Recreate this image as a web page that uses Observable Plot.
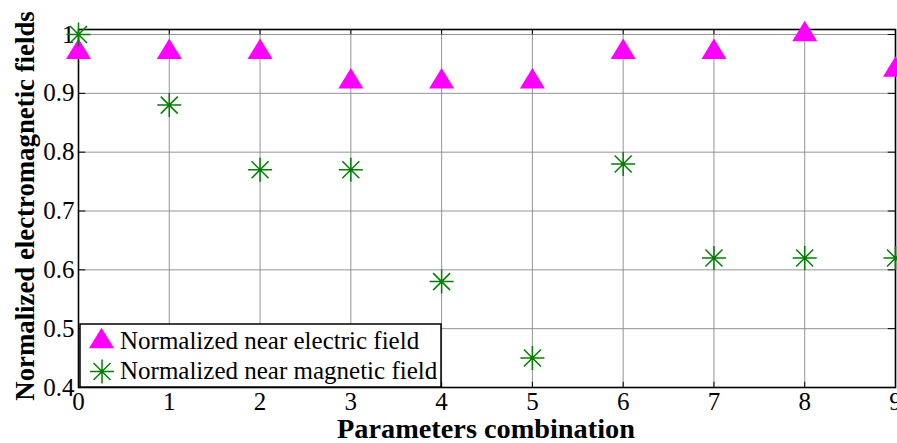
<!DOCTYPE html>
<html>
<head>
<meta charset="utf-8">
<script src="https://cdn.jsdelivr.net/npm/d3@7"></script>
<script src="https://cdn.jsdelivr.net/npm/@observablehq/plot@0.6"></script>
<style>
  html, body { margin: 0; padding: 0; background: #fff; }
  #chart { position: relative; width: 897px; height: 443px; }
  #chart svg text { font-family: "Liberation Serif", "Times New Roman", serif !important; }
  #chart svg [aria-label$="tick label"],
  #chart svg [aria-label$="tick label"] text { font-size: 25px !important; fill: #000; }
</style>
</head>
<body>
<div id="chart"></div>
<script>
const combos = [0, 1, 2, 3, 4, 5, 6, 7, 8, 9];
const electric = [0.97, 0.97, 0.97, 0.92, 0.92, 0.92, 0.97, 0.97, 1.0, 0.94];
const magnetic = [1.0, 0.88, 0.77, 0.77, 0.58, 0.45, 0.78, 0.62, 0.62, 0.62];
const yTicks = [0.4, 0.5, 0.6, 0.7, 0.8, 0.9, 1.0];
const xTicks = [0, 1, 2, 3, 4, 5, 6, 7, 8, 9];
const seriesNames = ["Normalized near electric field", "Normalized near magnetic field"];
const xLabel = "Parameters combination";
const yLabel = "Normalized electromagnetic fields";

const elecData = combos.map((c, i) => ({x: c, y: electric[i]}));
const magData = combos.map((c, i) => ({x: c, y: magnetic[i]}));

const triSym = {
  draw(ctx) {
    const w = 12.5, h = 20.5;
    ctx.moveTo(0, -h * 2 / 3);
    ctx.lineTo(w, h / 3);
    ctx.lineTo(-w, h / 3);
    ctx.closePath();
  }
};
const starSym = {
  draw(ctx) {
    const r = 12, d = 8.5;
    ctx.moveTo(-r, 0); ctx.lineTo(r, 0);
    ctx.moveTo(0, -r); ctx.lineTo(0, r);
    ctx.moveTo(-d, -d); ctx.lineTo(d, d);
    ctx.moveTo(-d, d); ctx.lineTo(d, -d);
  }
};

const font = "Liberation Serif";
const yTop = 1.0085;

const plot = Plot.plot({
  width: 897,
  height: 443,
  marginLeft: 78,
  marginRight: 2,
  marginTop: 29,
  marginBottom: 56,
  style: {fontFamily: font, fontSize: "25px", background: "#fff", overflow: "visible"},
  x: {domain: [0, 9], ticks: xTicks},
  y: {domain: [0.4, yTop], ticks: yTicks},
  marks: [
    Plot.gridX(xTicks, {stroke: "#888", strokeOpacity: 1, strokeWidth: 0.9}),
    Plot.gridY(yTicks, {stroke: "#888", strokeOpacity: 1, strokeWidth: 0.9}),
    Plot.axisX(xTicks, {anchor: "bottom", tickSize: 0, tickPadding: 5, label: null, fontSize: 25, fontFamily: font, fill: "#000"}),
    Plot.axisY(yTicks, {anchor: "left", tickSize: 0, tickPadding: 4, label: null, fontSize: 25, fontFamily: font, fill: "#000",
      tickFormat: d => d === 1 ? "1" : d.toFixed(1)}),
    Plot.ruleX(xTicks, {x: d => d, y1: 0.4, y2: 0.409, stroke: "#000", strokeWidth: 1}),
    Plot.ruleX(xTicks, {x: d => d, y1: yTop, y2: yTop - 0.009, stroke: "#000", strokeWidth: 1}),
    Plot.ruleY(yTicks, {y: d => d, x1: 0, x2: 0.08, stroke: "#000", strokeWidth: 1}),
    Plot.ruleY(yTicks, {y: d => d, x1: 9, x2: 8.92, stroke: "#000", strokeWidth: 1}),
    Plot.frame({stroke: "#000", strokeWidth: 1.6}),
    Plot.dot(elecData, {x: "x", y: "y", symbol: triSym, fill: "#ff00ff", stroke: "none", r: 10}),
    Plot.dot(magData, {x: "x", y: "y", symbol: starSym, stroke: "#008000", strokeWidth: 1.5, fill: "none", r: 10})
  ]
});

document.getElementById("chart").appendChild(plot);
const svg = d3.select(plot);

// axis titles
svg.append("text")
  .attr("x", 486).attr("y", 438)
  .attr("text-anchor", "middle")
  .attr("font-family", font).attr("font-weight", "bold").attr("font-size", 28.3)
  .attr("fill", "#000")
  .text(xLabel);
svg.append("text")
  .attr("transform", "translate(34,206) rotate(-90)")
  .attr("text-anchor", "middle")
  .attr("font-family", font).attr("font-weight", "bold").attr("font-size", 26.8)
  .attr("fill", "#000")
  .text(yLabel);

// legend
const lg = svg.append("g");
lg.append("rect").attr("x", 80).attr("y", 324).attr("width", 361).attr("height", 63)
  .attr("fill", "#fff").attr("stroke", "#000").attr("stroke-width", 1.5);
const triPath = d3.path(); triSym.draw(triPath);
const starPath = d3.path(); starSym.draw(starPath);
lg.append("path").attr("d", triPath.toString()).attr("transform", "translate(101.5,341.5)")
  .attr("fill", "#ff00ff");
lg.append("path").attr("d", starPath.toString()).attr("transform", "translate(102,371.5)")
  .attr("fill", "none").attr("stroke", "#008000").attr("stroke-width", 1.5);
lg.append("text").attr("x", 120).attr("y", 348.5).attr("text-anchor", "start")
  .attr("font-family", font).attr("font-size", 25).attr("fill", "#000").text(seriesNames[0]);
lg.append("text").attr("x", 120).attr("y", 378.5).attr("text-anchor", "start")
  .attr("font-family", font).attr("font-size", 25).attr("fill", "#000").text(seriesNames[1]);
</script>
</body>
</html>
